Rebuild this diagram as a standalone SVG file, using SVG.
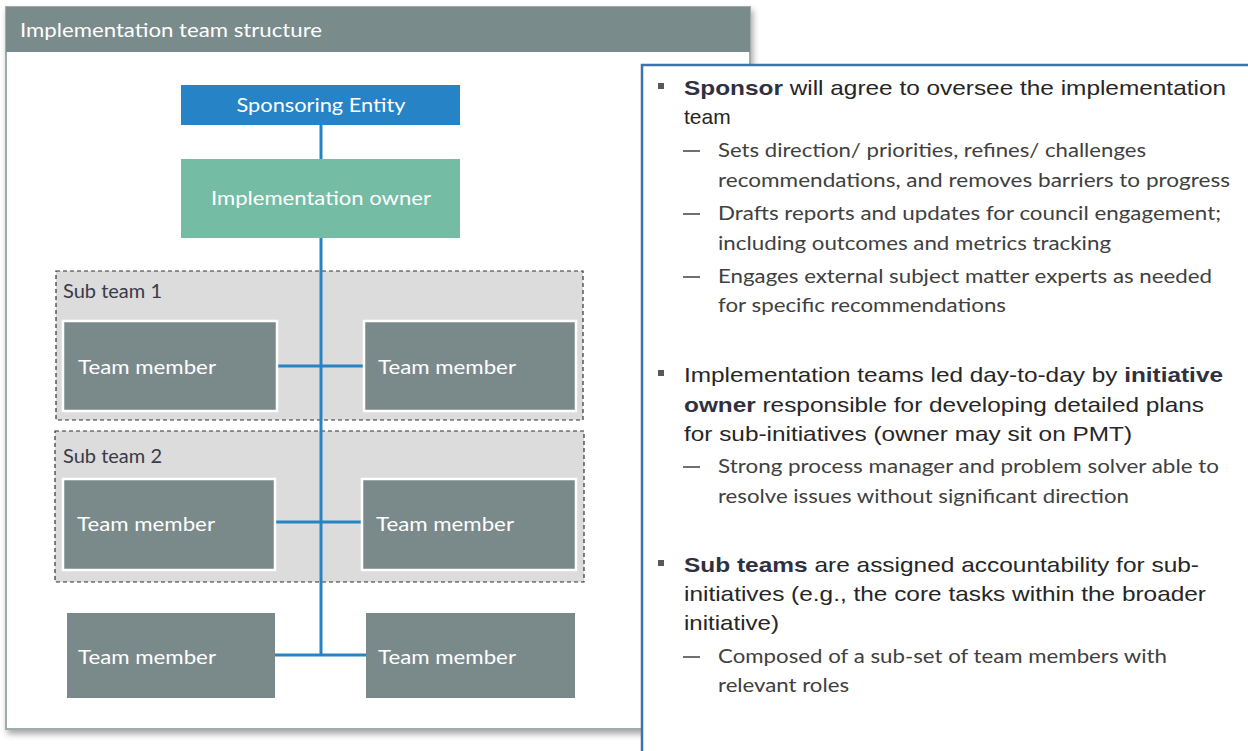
<svg xmlns="http://www.w3.org/2000/svg" width="1248" height="751" viewBox="0 0 1248 751">
<defs>
<filter id="sh" x="-5%" y="-5%" width="115%" height="115%">
<feDropShadow dx="2" dy="4" stdDeviation="3" flood-color="#000" flood-opacity="0.35"/>
</filter>
<style>
.cal{font-family:Lato,"Open Sans","Liberation Sans",sans-serif}
.ari{font-family:"Liberation Sans",Arial,sans-serif}
.wt{fill:#ffffff}
.tm{fill:#7a8a8b}
.tmb{fill:#7a8a8b;stroke:#ffffff;stroke-width:2.5}
.sub{fill:#dcdcdc;stroke:#333;stroke-width:1.2;stroke-dasharray:4 3}
.conn{stroke:#2683c6;stroke-width:3;fill:none}
.main{font-size:21px;fill:#262626}
.bold{font-weight:bold;fill:#30303f}
.st{font-size:19.5px;fill:#404040}
.bul{fill:#595959}
.dash{stroke:#404040;stroke-width:1.5}
</style>
</defs>
<rect width="1248" height="751" fill="#ffffff"/>
<g id="panel">
<rect x="6" y="7" width="744" height="722" fill="#ffffff" stroke="#a2abab" stroke-width="2" filter="url(#sh)"/>
<rect x="6" y="7" width="744" height="45" fill="#7a8b8c"/>
<text x="20" y="37" class="cal wt" font-size="19.5" textLength="302" lengthAdjust="spacingAndGlyphs">Implementation team structure</text>
</g>
<g id="subteam1">
<rect x="56" y="271" width="527" height="149" class="sub"/>
<text x="63" y="298" class="cal" font-size="19.5" fill="#3a3a48" textLength="99" lengthAdjust="spacingAndGlyphs">Sub team 1</text>
</g>
<g id="subteam2">
<rect x="55" y="431" width="529" height="151" class="sub"/>
<text x="63" y="463" class="cal" font-size="19.5" fill="#3a3a48" textLength="99" lengthAdjust="spacingAndGlyphs">Sub team 2</text>
</g>
<g id="connectors">
<line x1="321" y1="125" x2="321" y2="159" class="conn"/>
<line x1="321" y1="238" x2="321" y2="655" class="conn"/>
<line x1="277" y1="366" x2="363" y2="366" class="conn"/>
<line x1="275" y1="522" x2="362" y2="522" class="conn"/>
<line x1="275" y1="655" x2="366" y2="655" class="conn"/>
</g>
<g id="sponsor">
<rect x="181" y="85" width="279" height="40" fill="#2683c6"/>
<text x="321" y="112" text-anchor="middle" class="cal wt" font-size="20" textLength="169" lengthAdjust="spacingAndGlyphs">Sponsoring Entity</text>
</g>
<g id="owner">
<rect x="181" y="159" width="279" height="79" fill="#75bca5"/>
<text x="321" y="205" text-anchor="middle" class="cal wt" font-size="20" textLength="220" lengthAdjust="spacingAndGlyphs">Implementation owner</text>
</g>
<g id="tm1a"><rect x="63" y="321" width="214" height="90" class="tmb"/><text x="78" y="374" class="cal wt" font-size="20" textLength="138" lengthAdjust="spacingAndGlyphs">Team member</text></g>
<g id="tm1b"><rect x="364" y="321" width="212" height="90" class="tmb"/><text x="378" y="374" class="cal wt" font-size="20" textLength="138" lengthAdjust="spacingAndGlyphs">Team member</text></g>
<g id="tm2a"><rect x="63" y="479" width="212" height="91" class="tmb"/><text x="77" y="531" class="cal wt" font-size="20" textLength="138" lengthAdjust="spacingAndGlyphs">Team member</text></g>
<g id="tm2b"><rect x="362" y="479" width="214" height="91" class="tmb"/><text x="376" y="531" class="cal wt" font-size="20" textLength="138" lengthAdjust="spacingAndGlyphs">Team member</text></g>
<g id="tm3a"><rect x="67" y="613" width="208" height="85" class="tm"/><text x="78" y="664" class="cal wt" font-size="20" textLength="138" lengthAdjust="spacingAndGlyphs">Team member</text></g>
<g id="tm3b"><rect x="366" y="613" width="209" height="85" class="tm"/><text x="378" y="664" class="cal wt" font-size="20" textLength="138" lengthAdjust="spacingAndGlyphs">Team member</text></g>
<g id="notes">
<rect x="642" y="65" width="620" height="700" fill="#ffffff" stroke="#3d73a8" stroke-width="2.5"/>
<rect x="658" y="83" width="6" height="6" class="bul"/>
<text x="684" y="95" class="ari main" textLength="542" lengthAdjust="spacingAndGlyphs"><tspan class="bold">Sponsor</tspan> will agree to oversee the implementation</text>
<text x="684" y="124" class="ari main">team</text>
<line x1="683" y1="151" x2="700" y2="151" class="dash"/>
<text x="718" y="157" class="cal st" textLength="428" lengthAdjust="spacingAndGlyphs">Sets direction/ priorities, refines/ challenges</text>
<text x="718" y="187" class="cal st" textLength="512" lengthAdjust="spacingAndGlyphs">recommendations, and removes barriers to progress</text>
<line x1="683" y1="214" x2="700" y2="214" class="dash"/>
<text x="718" y="220" class="cal st" textLength="503" lengthAdjust="spacingAndGlyphs">Drafts reports and updates for council engagement;</text>
<text x="718" y="250" class="cal st" textLength="393" lengthAdjust="spacingAndGlyphs">including outcomes and metrics tracking</text>
<line x1="683" y1="277" x2="700" y2="277" class="dash"/>
<text x="718" y="283" class="cal st" textLength="494" lengthAdjust="spacingAndGlyphs">Engages external subject matter experts as needed</text>
<text x="718" y="312" class="cal st" textLength="288" lengthAdjust="spacingAndGlyphs">for specific recommendations</text>

<rect x="658" y="370" width="6" height="6" class="bul"/>
<text x="684" y="382" class="ari main" textLength="539" lengthAdjust="spacingAndGlyphs">Implementation teams led day-to-day by <tspan class="bold">initiative</tspan></text>
<text x="684" y="412" class="ari main" textLength="520" lengthAdjust="spacingAndGlyphs"><tspan class="bold">owner</tspan> responsible for developing detailed plans</text>
<text x="684" y="441" class="ari main" textLength="448" lengthAdjust="spacingAndGlyphs">for sub-initiatives (owner may sit on PMT)</text>
<line x1="683" y1="467" x2="700" y2="467" class="dash"/>
<text x="718" y="473" class="cal st" textLength="501" lengthAdjust="spacingAndGlyphs">Strong process manager and problem solver able to</text>
<text x="718" y="503" class="cal st" textLength="411" lengthAdjust="spacingAndGlyphs">resolve issues without significant direction</text>

<rect x="658" y="560" width="6" height="6" class="bul"/>
<text x="684" y="572" class="ari main" textLength="515" lengthAdjust="spacingAndGlyphs"><tspan class="bold">Sub teams</tspan> are assigned accountability for sub-</text>
<text x="684" y="601" class="ari main" textLength="522" lengthAdjust="spacingAndGlyphs">initiatives (e.g., the core tasks within the broader</text>
<text x="684" y="630" class="ari main" textLength="95" lengthAdjust="spacingAndGlyphs">initiative)</text>
<line x1="683" y1="657" x2="700" y2="657" class="dash"/>
<text x="718" y="663" class="cal st" textLength="449" lengthAdjust="spacingAndGlyphs">Composed of a sub-set of team members with</text>
<text x="718" y="692" class="cal st" textLength="131" lengthAdjust="spacingAndGlyphs">relevant roles</text>
</g>
</svg>
